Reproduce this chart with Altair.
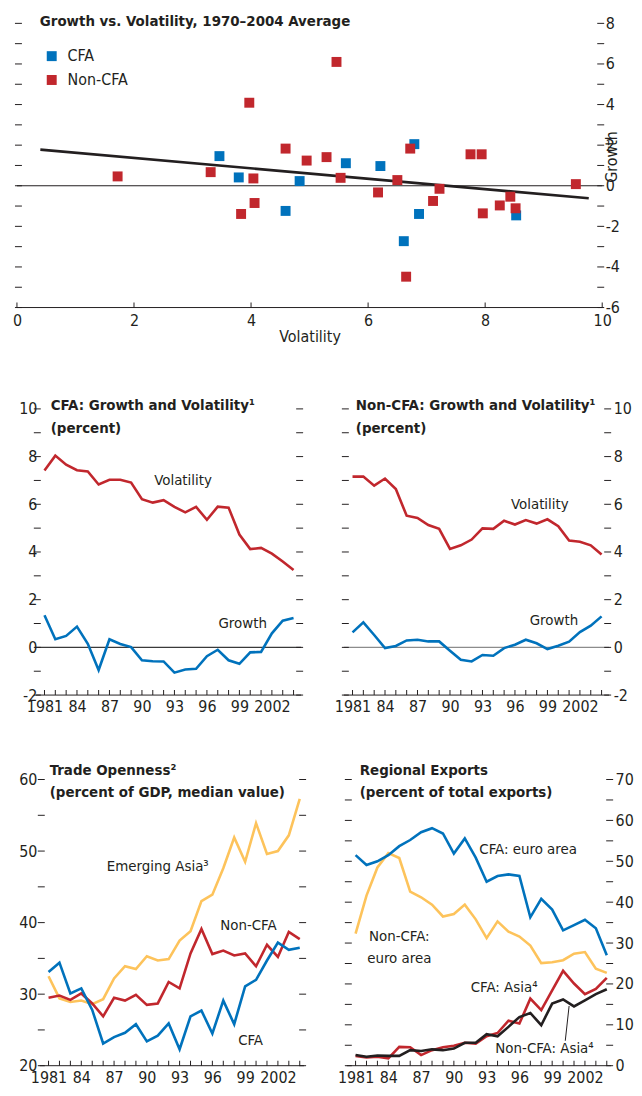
import altair as alt
import pandas as pd

FONT = "Liberation Sans Narrow, Arial Narrow, DejaVu Sans Condensed, Roboto Condensed, sans-serif"
INK = "#231F20"
BLUE = "#0072BC"
RED = "#C1272D"
YELLOW = "#FDC35B"
ZERO_DARK = "#3A3A3A"
ZERO_GRAY = "#8C8C8C"
AX_FS = 16
LBL_FS = 15
TTL_FS = 15

years = list(range(1981, 2005))

# ---------------- top scatter: growth vs volatility ----------------
cfa_vol_x = [3.46, 3.79, 4.59, 4.83, 5.62, 6.21, 6.79, 6.87, 6.61, 8.53]
cfa_growth_y = [1.46, 0.41, -1.24, 0.23, 1.11, 0.97, 2.05, -1.39, -2.73, -1.46]
noncfa_vol_x = [1.72, 3.31, 3.83, 3.97, 4.04, 4.06, 4.59, 4.95, 5.29, 5.46, 5.53, 6.17,
                6.50, 6.65, 6.72, 7.11, 7.22, 7.75, 7.94, 7.96, 8.25, 8.43, 8.52, 9.55]
noncfa_growth_y = [0.46, 0.67, -1.39, 4.09, 0.36, -0.85, 1.83, 1.24, 1.41, 6.10, 0.39, -0.33,
                   0.28, -4.48, 1.83, -0.75, -0.15, 1.55, 1.55, -1.36, -0.97, -0.54, -1.11, 0.08]
fit_x = [0.40, 9.77]
fit_y = [1.78, -0.62]
top_xticks = [0, 2, 4, 6, 8, 10]

# ---------------- CFA / Non-CFA growth and volatility ----------------
cfa_volatility = [7.42, 8.04, 7.66, 7.43, 7.38, 6.83, 7.03, 7.03, 6.91, 6.21, 6.07, 6.17,
                  5.89, 5.66, 5.89, 5.35, 5.90, 5.86, 4.73, 4.12, 4.17, 3.93, 3.60, 3.24]
cfa_growth = [1.35, 0.34, 0.48, 0.87, 0.15, -0.95, 0.34, 0.14, 0.01, -0.54, -0.58, -0.59,
              -1.06, -0.93, -0.90, -0.37, -0.10, -0.54, -0.69, -0.21, -0.19, 0.59, 1.12, 1.23]
noncfa_volatility = [7.16, 7.16, 6.78, 7.08, 6.64, 5.52, 5.43, 5.13, 4.97, 4.13, 4.28, 4.52,
                     4.99, 4.97, 5.31, 5.15, 5.34, 5.19, 5.37, 5.08, 4.48, 4.43, 4.28, 3.89]
noncfa_growth = [0.63, 1.05, 0.52, -0.03, 0.06, 0.29, 0.32, 0.25, 0.25, -0.14, -0.52, -0.59,
                 -0.32, -0.35, -0.03, 0.11, 0.32, 0.17, -0.07, 0.07, 0.24, 0.64, 0.91, 1.30]

# ---------------- Trade openness ----------------
trade_asia = [32.5, 29.4, 28.9, 29.1, 28.6, 29.3, 32.2, 33.9, 33.5, 35.3, 34.7, 34.9,
              37.5, 38.8, 43.0, 43.9, 47.6, 51.9, 48.5, 53.9, 49.6, 50.0, 52.2, 57.3]
trade_noncfa = [29.5, 29.8, 29.2, 30.1, 28.7, 26.9, 29.5, 29.1, 29.9, 28.5, 28.7, 31.7,
                30.8, 35.7, 39.1, 35.6, 36.1, 35.4, 35.7, 33.9, 36.9, 35.2, 38.7, 37.7]
trade_cfa = [33.1, 34.4, 30.1, 30.8, 27.8, 23.1, 24.0, 24.6, 25.8, 23.4, 24.2, 25.9,
             22.3, 26.9, 27.7, 24.5, 29.1, 25.8, 31.1, 32.0, 34.7, 37.2, 36.2, 36.5]

# ---------------- Regional exports ----------------
exp_cfa_euro = [51.5, 49.1, 50.0, 51.5, 53.7, 55.2, 57.1, 58.1, 56.8, 51.9, 55.6, 50.9,
                45.0, 46.4, 46.8, 46.4, 36.3, 40.8, 38.2, 33.1, 34.4, 35.7, 33.6, 27.0]
exp_noncfa_euro = [32.3, 41.6, 48.5, 52.0, 50.8, 42.6, 41.2, 39.4, 36.5, 37.1, 39.4, 35.8,
                   31.2, 35.3, 32.8, 31.6, 29.4, 25.1, 25.3, 25.8, 27.4, 27.8, 23.7, 22.7]
exp_cfa_asia = [2.4, 2.0, 2.2, 1.8, 4.6, 4.5, 2.6, 3.8, 4.5, 4.9, 5.6, 5.4,
                7.2, 8.0, 11.0, 10.3, 16.4, 13.6, 18.4, 23.2, 20.1, 17.5, 18.8, 21.5]
exp_noncfa_asia = [2.6, 2.2, 2.5, 2.4, 2.4, 3.8, 3.6, 4.0, 3.8, 4.2, 5.6, 5.6,
                   7.7, 7.2, 9.5, 11.9, 12.9, 9.9, 15.2, 16.2, 14.5, 16.0, 17.5, 18.7]

# ---------------- in-panel labels ----------------
cfa_lbl_text = ["Volatility", "Growth"]
cfa_lbl_x = [1993.8, 1999.3]
cfa_lbl_y = [7.0, 1.0]
noncfa_lbl_text = ["Volatility", "Growth"]
noncfa_lbl_x = [1998.3, 1999.6]
noncfa_lbl_y = [6.0, 1.15]
trade_lbl_text = ["Emerging Asia³", "Non-CFA", "CFA"]
trade_lbl_x = [1991.0, 1999.3, 1999.5]
trade_lbl_y = [47.9, 39.7, 23.6]
exp_lbl_text = ["CFA: euro area", "Non-CFA:", "euro area", "CFA: Asia⁴", "Non-CFA: Asia⁴"]
exp_lbl_x = [1996.8, 1985.0, 1985.0, 1994.6, 1998.3]
exp_lbl_y = [53.1, 31.6, 26.4, 19.25, 4.2]
leader_x = [2000.2, 2000.55]
leader_y = [6.1, 14.6]

YEAR_LABELS = ("(datum.value - 1981) % 3 === 0 ? ((datum.value > 1981 && datum.value < 2000) ? "
               "substring(toString(datum.value), 2) : toString(datum.value)) : ''")
TICK = 7


def x_axis(vals, expr=None, pad=4, **kw):
    args = dict(values=vals, orient="bottom", domain=False, grid=False, ticks=False,
                labelPadding=pad, labelFontSize=AX_FS, labelColor=INK,
                labelOverlap=False, labelFlush=False, title=None)
    if expr:
        args["labelExpr"] = expr
    args.update(kw)
    return alt.Axis(**args)


def y_axis(orient, vals, step, pad, **kw):
    args = dict(orient=orient, values=vals, domain=False, grid=False, ticks=False,
                labelExpr=f"datum.value % {step} === 0 ? toString(datum.value) : ''",
                labelPadding=pad, labelFontSize=AX_FS, labelColor=INK,
                labelOverlap=False, labelFlush=False, title=None)
    args.update(kw)
    return alt.Axis(**args)


def y_ticks(vals, xpos, side):
    df = pd.DataFrame({"x": [xpos] * len(vals), "y": vals})
    off = 1.5 if side == "left" else -1.5
    return alt.Chart(df).mark_tick(orient="horizontal", size=TICK, thickness=1,
                                   xOffset=off, opacity=1).encode(color=alt.value(INK))


def x_ticks(vals, ypos):
    df = pd.DataFrame({"x": vals, "y": [ypos] * len(vals)})
    return alt.Chart(df).mark_tick(orient="vertical", size=5, thickness=1,
                                   yOffset=-2.5, opacity=1).encode(color=alt.value(INK))


def hrule(xdom, yval, color, width=1.0):
    df = pd.DataFrame({"x": [xdom[0]], "x2": [xdom[1]], "y": [yval]})
    return alt.Chart(df).mark_rule(strokeWidth=width).encode(
        x2="x2:Q", color=alt.value(color))


def panel_title(lines, dx, offset):
    return alt.Title(text=lines, anchor="start", frame="group", orient="top", offset=offset,
                     dx=dx, fontSize=TTL_FS, fontWeight="bold", color=INK, lineHeight=23)


def spacer():
    return alt.Chart(pd.DataFrame({"s": [0]})).mark_point(size=0, opacity=0).encode(
        x=alt.value(0), y=alt.value(0)).properties(width=1, height=1)


# ================= top chart =================
XTOP = [0, 10]
YTOP = [-6, 8]
top_vals = list(range(-6, 9))
scatter_df = pd.DataFrame({
    "x": cfa_vol_x + noncfa_vol_x,
    "y": cfa_growth_y + noncfa_growth_y,
    "group": ["CFA"] * len(cfa_vol_x) + ["Non-CFA"] * len(noncfa_vol_x),
})
fit_df = pd.DataFrame({"x": fit_x, "y": fit_y})

top_fit = alt.Chart(fit_df).mark_line(strokeWidth=2.6).encode(color=alt.value(INK))
top_pts = alt.Chart(scatter_df).mark_square(size=100, opacity=1).encode(
    color=alt.Color("group:N", scale=alt.Scale(domain=["CFA", "Non-CFA"], range=[BLUE, RED]),
                    legend=alt.Legend(orient="none", legendX=27, legendY=25, title=None,
                                      symbolType="square", symbolSize=100,
                                      labelFontSize=16, labelColor=INK, rowPadding=8,
                                      labelOffset=8)))
top_chart = alt.layer(
    hrule(XTOP, 0, INK, 1.2), hrule(XTOP, -6, INK, 1.0),
    y_ticks(top_vals, XTOP[0], "left"), y_ticks(top_vals, XTOP[1], "right"),
    x_ticks(top_xticks, -6),
    top_fit, top_pts,
).encode(
    x=alt.X("x:Q", scale=alt.Scale(domain=XTOP, nice=False, zero=False),
            axis=x_axis(top_xticks, pad=5, title="Volatility", titleFontSize=AX_FS,
                        titleFontWeight="normal", titleColor=INK, titlePadding=0)),
    y=alt.Y("y:Q", scale=alt.Scale(domain=YTOP, nice=False, zero=False),
            axis=y_axis("right", top_vals, 2, 3, title="Growth", titleAngle=270,
                        titleFontSize=AX_FS, titleFontWeight="normal", titleColor=INK,
                        titlePadding=0, titleY=134)),
).properties(width=589, height=286,
             title=alt.Title(text="Growth vs. Volatility, 1970–2004 Average", anchor="start",
                             frame="group", orient="top", offset=-13.5, dx=23,
                             fontSize=TTL_FS, fontWeight="bold", color=INK))


# ================= line panels =================
def line_panel(series, ydom, minor, step, label_side, lpad, title_lines, dx, toff,
               lbl_text, lbl_x, lbl_y, width, height, xdom, zero_color=None, leader=None):
    vals = list(range(ydom[0], ydom[1] + 1, minor))
    layers = []
    if zero_color:
        layers.append(hrule(xdom, 0, zero_color, 1.2))
    layers.append(hrule(xdom, ydom[0], INK, 1.0))
    layers.append(y_ticks(vals, xdom[0], "left"))
    layers.append(y_ticks(vals, xdom[1], "right"))
    layers.append(x_ticks(years, ydom[0]))
    for values, color in series:
        df = pd.DataFrame({"x": years, "y": values})
        layers.append(alt.Chart(df).mark_line(strokeWidth=2.6).encode(color=alt.value(color)))
    if leader:
        ldf = pd.DataFrame({"x": leader[0], "y": leader[1]})
        layers.append(alt.Chart(ldf).mark_line(strokeWidth=1).encode(color=alt.value(INK)))
    tdf = pd.DataFrame({"x": lbl_x, "y": lbl_y, "t": lbl_text})
    layers.append(alt.Chart(tdf).mark_text(fontSize=LBL_FS, align="center",
                                           baseline="middle").encode(
        text="t:N", color=alt.value(INK)))
    return alt.layer(*layers).encode(
        x=alt.X("x:Q", scale=alt.Scale(domain=xdom, nice=False, zero=False),
                axis=x_axis(years, YEAR_LABELS, pad=4)),
        y=alt.Y("y:Q", scale=alt.Scale(domain=ydom, nice=False, zero=False),
                axis=y_axis(label_side, vals, step, lpad)),
    ).properties(width=width, height=height, title=panel_title(title_lines, dx, toff))


XMID = [1980.2, 2004.7]
XBOT = [1980.2, 2004.4]

cfa_chart = line_panel([(cfa_volatility, RED), (cfa_growth, BLUE)], [-2, 10], 1, 2, "left", -1,
                       ["CFA: Growth and Volatility¹", "(percent)"], 15, -35.5,
                       cfa_lbl_text, cfa_lbl_x, cfa_lbl_y, 267, 288, XMID, zero_color=ZERO_DARK)
noncfa_chart = line_panel([(noncfa_volatility, RED), (noncfa_growth, BLUE)], [-2, 10], 1, 2,
                          "right", 4, ["Non-CFA: Growth and Volatility¹", "(percent)"], 12, -35.5,
                          noncfa_lbl_text, noncfa_lbl_x, noncfa_lbl_y, 267, 288, XMID,
                          zero_color=ZERO_GRAY)
trade_chart = line_panel([(trade_asia, YELLOW), (trade_noncfa, RED), (trade_cfa, BLUE)],
                         [20, 60], 5, 10, "left", 3,
                         ["Trade Openness²", "(percent of GDP, median value)"], 10, -29,
                         trade_lbl_text, trade_lbl_x, trade_lbl_y, 266, 288, XBOT)
exp_chart = line_panel([(exp_noncfa_euro, YELLOW), (exp_cfa_euro, BLUE), (exp_cfa_asia, RED),
                        (exp_noncfa_asia, INK)], [0, 70], 5, 10, "right", 4,
                       ["Regional Exports", "(percent of total exports)"], 13, -29,
                       exp_lbl_text, exp_lbl_x, exp_lbl_y, 266, 288, XBOT,
                       leader=(leader_x, leader_y))

mid_row = alt.hconcat(spacer(), alt.hconcat(cfa_chart, noncfa_chart, spacing=31), spacing=0)
bot_row = alt.hconcat(spacer(), alt.hconcat(trade_chart, exp_chart, spacing=31), spacing=0)
lower = alt.concat(mid_row, bot_row, columns=1, align="none", spacing=48)
chart = alt.concat(top_chart, lower, columns=1, align="none", spacing=54).resolve_scale(
    color="independent").properties(padding={"left": 4, "top": 2, "right": 0, "bottom": 0})

chart = chart.configure(font=FONT).configure_view(stroke=None).configure_axis(
    labelFont=FONT, titleFont=FONT).configure_title(font=FONT).configure_legend(
    labelFont=FONT).configure_text(font=FONT)

chart.save("out.html", embed_options={"renderer": "svg", "actions": False})
